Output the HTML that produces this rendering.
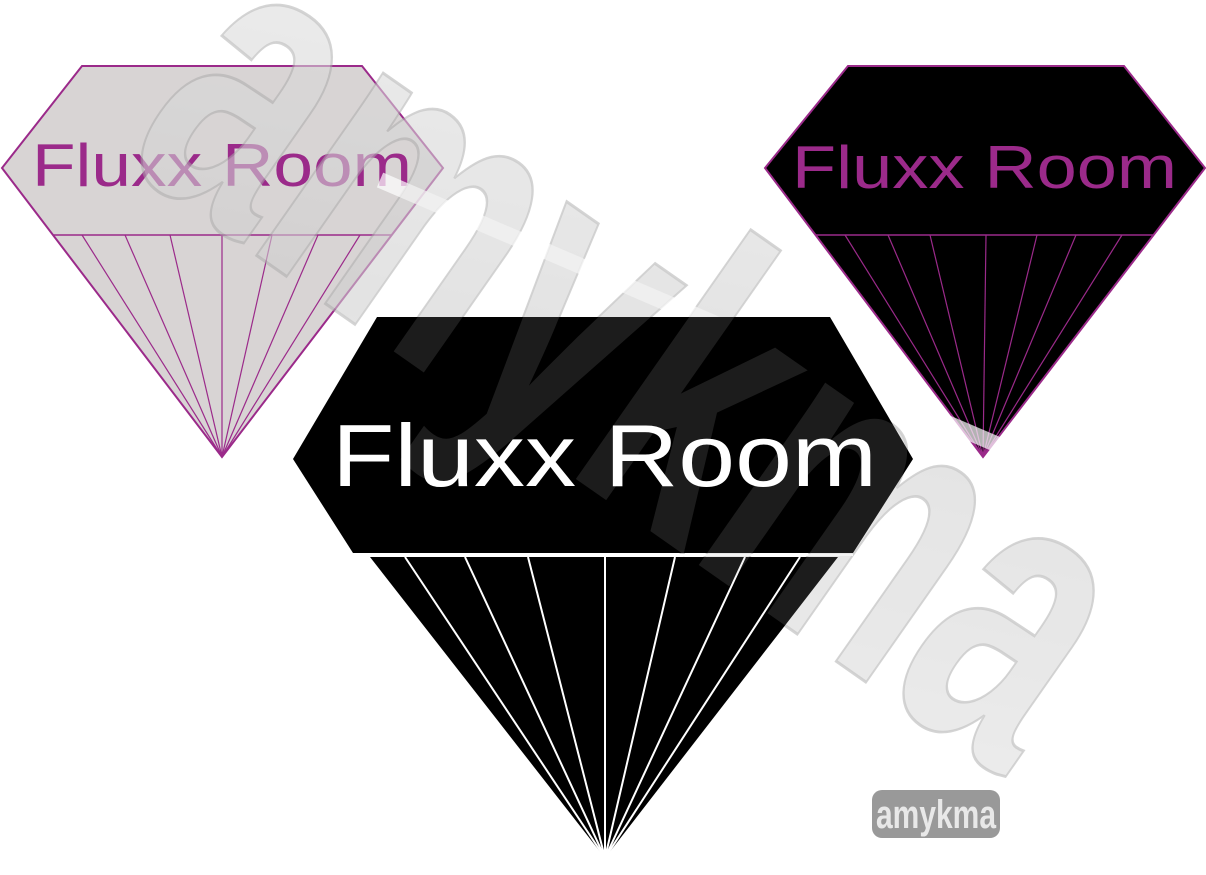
<!DOCTYPE html>
<html><head><style>
html,body{margin:0;padding:0;background:#fff;width:1206px;height:875px;overflow:hidden}
svg{display:block}
</style></head><body>
<svg width="1206" height="875" viewBox="0 0 1206 875" xmlns="http://www.w3.org/2000/svg">
<defs>
<linearGradient id="wm" x1="0" y1="0" x2="1" y2="1">
<stop offset="0" stop-color="#f4f4f4"/><stop offset="0.5" stop-color="#d8d8d8"/><stop offset="1" stop-color="#f0f0f0"/>
</linearGradient>
</defs>
<!-- left diamond -->
<polygon points="82,66 362,66 443,168 222,457 2,168" fill="#d8d4d4" stroke="#9b2a8a" stroke-width="2"/>
<line x1="53" y1="235" x2="392" y2="235" stroke="#9b2a8a" stroke-width="1.5"/>
<g stroke="#9b2a8a" stroke-width="1.2">
<line x1="82" y1="235" x2="222" y2="457"/><line x1="125" y1="235" x2="222" y2="457"/>
<line x1="170" y1="235" x2="222" y2="457"/><line x1="222" y1="235" x2="222" y2="457"/>
<line x1="272" y1="235" x2="222" y2="457"/><line x1="318" y1="235" x2="222" y2="457"/>
<line x1="360" y1="235" x2="222" y2="457"/>
</g>
<text x="32" y="186" font-family="Liberation Sans Narrow, Liberation Sans, sans-serif" font-size="60" fill="#9b2a8a" textLength="380" lengthAdjust="spacingAndGlyphs">Fluxx Room</text>
<!-- right diamond -->
<polygon points="848,66 1124,66 1205,168 983,457 765,168" fill="#000" stroke="#9b2a8a" stroke-width="2"/>
<line x1="816" y1="235" x2="1153" y2="235" stroke="#9b2a8a" stroke-width="1.5"/>
<g stroke="#9b2a8a" stroke-width="1.2">
<line x1="845" y1="235" x2="983" y2="457"/><line x1="888" y1="235" x2="983" y2="457"/>
<line x1="930" y1="235" x2="983" y2="457"/><line x1="986" y1="235" x2="983" y2="457"/>
<line x1="1037" y1="235" x2="983" y2="457"/><line x1="1076" y1="235" x2="983" y2="457"/>
<line x1="1122" y1="235" x2="983" y2="457"/>
</g>
<text x="792" y="188" font-family="Liberation Sans Narrow, Liberation Sans, sans-serif" font-size="60" fill="#9b2a8a" textLength="385" lengthAdjust="spacingAndGlyphs">Fluxx Room</text>
<!-- watermark -->
<g opacity="0.5" transform="translate(250,-30) rotate(35)">
<text x="0" y="230" font-family="Liberation Sans, sans-serif" font-weight="bold" font-size="420" fill="url(#wm)" stroke="#aaa" stroke-width="3" textLength="1080" lengthAdjust="spacingAndGlyphs">amykma</text>
</g>
<line x1="380" y1="180" x2="1080" y2="480" stroke="#fff" stroke-width="16" opacity="0.7"/>
<!-- center diamond -->
<polygon points="377,317 830,317 913,459 853,553 353,553 293,459" fill="#000"/>
<polygon points="370,557 838,557 605,858" fill="#000"/>
<line x1="353" y1="555" x2="853" y2="555" stroke="#fff" stroke-width="2"/>
<g stroke="#fff" stroke-width="2">
<line x1="405" y1="557" x2="605" y2="858"/><line x1="465" y1="557" x2="605" y2="858"/>
<line x1="528" y1="557" x2="605" y2="858"/><line x1="605" y1="557" x2="605" y2="858"/>
<line x1="675" y1="557" x2="605" y2="858"/><line x1="745" y1="557" x2="605" y2="858"/>
<line x1="800" y1="557" x2="605" y2="858"/>
</g>
<!-- faint watermark overlay on center -->
<g opacity="0.15" transform="translate(250,-30) rotate(35)">
<text x="0" y="230" font-family="Liberation Sans, sans-serif" font-weight="bold" font-size="420" fill="#bbb" textLength="1080" lengthAdjust="spacingAndGlyphs">amykma</text>
</g>
<text x="332" y="486" font-family="Liberation Sans Narrow, Liberation Sans, sans-serif" font-size="88" fill="#fff" textLength="545" lengthAdjust="spacingAndGlyphs">Fluxx Room</text>
<!-- small logo -->
<rect x="872" y="790" width="128" height="48" rx="10" fill="#999"/>
<text x="876" y="828" font-family="Liberation Sans, sans-serif" font-weight="bold" font-size="40" fill="#e8e8e8" textLength="120" lengthAdjust="spacingAndGlyphs">amykma</text>
</svg>
</body></html>
